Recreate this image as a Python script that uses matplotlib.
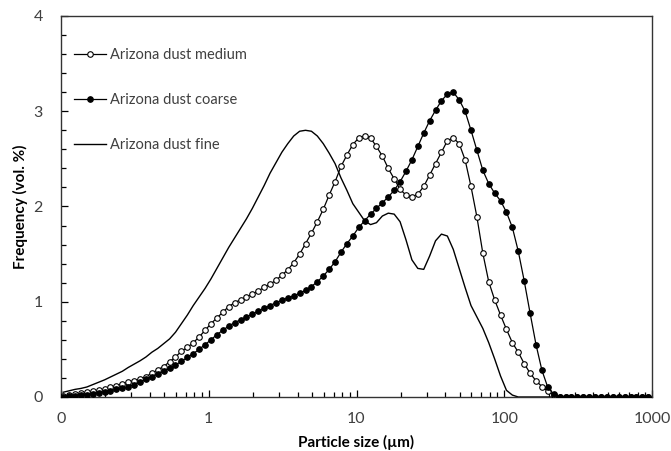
import numpy as np
import matplotlib
matplotlib.use("Agg")
import matplotlib.pyplot as plt
from matplotlib.ticker import FixedLocator, FuncFormatter, MultipleLocator, LogLocator, NullFormatter

plt.rcParams['font.family'] = ['Lato', 'DejaVu Sans']

# Classes de tamanho (µm), 100 canais log-espaçados
tamanhos = np.geomspace(0.1035, 944, 100)

# Frequência (vol. %) por canal
medium = [0.01, 0.02, 0.03, 0.04, 0.05, 0.06, 0.07, 0.08, 0.10, 0.12,
          0.14, 0.155, 0.17, 0.19, 0.215, 0.25, 0.285, 0.32, 0.37, 0.42,
          0.48, 0.52, 0.57, 0.63, 0.70, 0.77, 0.83, 0.89, 0.95, 0.99,
          1.02, 1.05, 1.08, 1.115, 1.15, 1.185, 1.225, 1.28, 1.335, 1.41,
          1.50, 1.61, 1.72, 1.84, 1.97, 2.12, 2.26, 2.42, 2.54, 2.65,
          2.72, 2.74, 2.72, 2.63, 2.53, 2.40, 2.29, 2.18, 2.12, 2.10,
          2.13, 2.21, 2.33, 2.45, 2.57, 2.69, 2.72, 2.66, 2.49, 2.21,
          1.89, 1.51, 1.21, 1.02, 0.86, 0.71, 0.57, 0.47, 0.35, 0.25,
          0.17, 0.11, 0.06, 0.025, 0.005, 0, 0, 0, 0, 0,
          0, 0, 0, 0, 0, 0, 0, 0, 0, 0]

coarse = [0.005, 0.01, 0.015, 0.02, 0.025, 0.035, 0.045, 0.055, 0.065, 0.08,
          0.09, 0.11, 0.13, 0.155, 0.185, 0.215, 0.24, 0.27, 0.30, 0.335,
          0.375, 0.415, 0.455, 0.50, 0.55, 0.60, 0.655, 0.70, 0.745, 0.78,
          0.81, 0.84, 0.87, 0.90, 0.93, 0.96, 0.99, 1.015, 1.04, 1.06,
          1.09, 1.12, 1.16, 1.21, 1.27, 1.34, 1.42, 1.52, 1.61, 1.69,
          1.78, 1.85, 1.92, 1.98, 2.04, 2.10, 2.17, 2.26, 2.37, 2.49,
          2.63, 2.77, 2.90, 3.01, 3.11, 3.18, 3.20, 3.12, 3.00, 2.80,
          2.59, 2.38, 2.24, 2.14, 2.06, 1.94, 1.78, 1.53, 1.22, 0.88,
          0.55, 0.28, 0.10, 0.03, 0.005, 0, 0, 0, 0, 0,
          0, 0, 0, 0, 0, 0, 0, 0, 0, 0]

fine = [0.05, 0.065, 0.08, 0.09, 0.105, 0.13, 0.155, 0.18, 0.21, 0.24,
        0.27, 0.31, 0.345, 0.38, 0.42, 0.47, 0.51, 0.56, 0.61, 0.68,
        0.77, 0.86, 0.96, 1.05, 1.14, 1.24, 1.35, 1.46, 1.57, 1.67,
        1.77, 1.87, 1.98, 2.10, 2.22, 2.35, 2.46, 2.57, 2.66, 2.74,
        2.79, 2.80, 2.79, 2.74, 2.66, 2.56, 2.45, 2.30, 2.17, 2.03,
        1.94, 1.85, 1.81, 1.83, 1.90, 1.93, 1.92, 1.84, 1.65, 1.44,
        1.35, 1.34, 1.48, 1.64, 1.71, 1.69, 1.55, 1.35, 1.15, 0.96,
        0.84, 0.72, 0.57, 0.40, 0.22, 0.07, 0.02, 0, 0, 0,
        0, 0, 0, 0, 0, 0, 0, 0, 0, 0,
        0, 0, 0, 0, 0, 0, 0, 0, 0, 0]

xticks = [0.1, 1, 10, 100, 1000]
xticklabels = ["0", "1", "10", "100", "1000"]

fig = plt.figure(figsize=(6.71, 4.51), dpi=100)
ax = fig.add_axes([61 / 671, 1 - 397 / 451, 591 / 671, 381 / 451])

cor_texto = "#404040"

ax.plot(tamanhos, medium, color="black", lw=0.9, marker="o", ms=4.0,
        mfc="white", mec="black", mew=0.8, label="Arizona dust medium", zorder=3)
ax.plot(tamanhos, coarse, color="black", lw=0.9, marker="o", ms=4.0,
        mfc="black", mec="black", mew=0.8, label="Arizona dust coarse", zorder=4)
ax.plot(tamanhos, fine, color="black", lw=1.0, label="Arizona dust fine", zorder=2)

ax.set_xscale("log")
ax.set_xlim(0.1, 1000)
ax.set_ylim(0, 4)

ax.xaxis.set_major_locator(FixedLocator(xticks))
ax.xaxis.set_major_formatter(FuncFormatter(lambda v, p: xticklabels[xticks.index(v)] if v in xticks else ""))
ax.xaxis.set_minor_locator(LogLocator(base=10, subs=np.arange(2, 10), numticks=20))
ax.xaxis.set_minor_formatter(NullFormatter())

ax.yaxis.set_major_locator(MultipleLocator(1))
ax.yaxis.set_minor_locator(MultipleLocator(0.2))
ax.yaxis.set_major_formatter(FuncFormatter(lambda v, p: f"{v:.0f}"))

ax.tick_params(axis="both", which="major", direction="in", length=5, width=0.9,
               labelsize=11.5, colors="black", labelcolor=cor_texto)
ax.tick_params(axis="x", which="major", pad=11)
ax.tick_params(axis="y", which="major", pad=13)
ax.tick_params(axis="both", which="minor", direction="in", length=3.5, width=0.9, colors="black")
ax.tick_params(axis="y", which="both", right=False)
ax.tick_params(axis="x", which="both", top=False)

for lado in ax.spines.values():
    lado.set_linewidth(1.0)
    lado.set_color("#333333")

ax.set_xlabel("Particle size (µm)", fontsize=11, fontweight="bold", color="black", labelpad=6)
ax.set_ylabel("Frequency (vol. %)", fontsize=11, fontweight="bold", color="black", labelpad=4)

ax.legend(loc="upper left", bbox_to_anchor=(0.022, 0.917), frameon=False,
          fontsize=10.5, handlelength=2.2, handletextpad=0.25, labelspacing=2.15,
          borderpad=0, borderaxespad=0, numpoints=1, labelcolor=cor_texto)

fig.savefig("out.png", dpi=100)
